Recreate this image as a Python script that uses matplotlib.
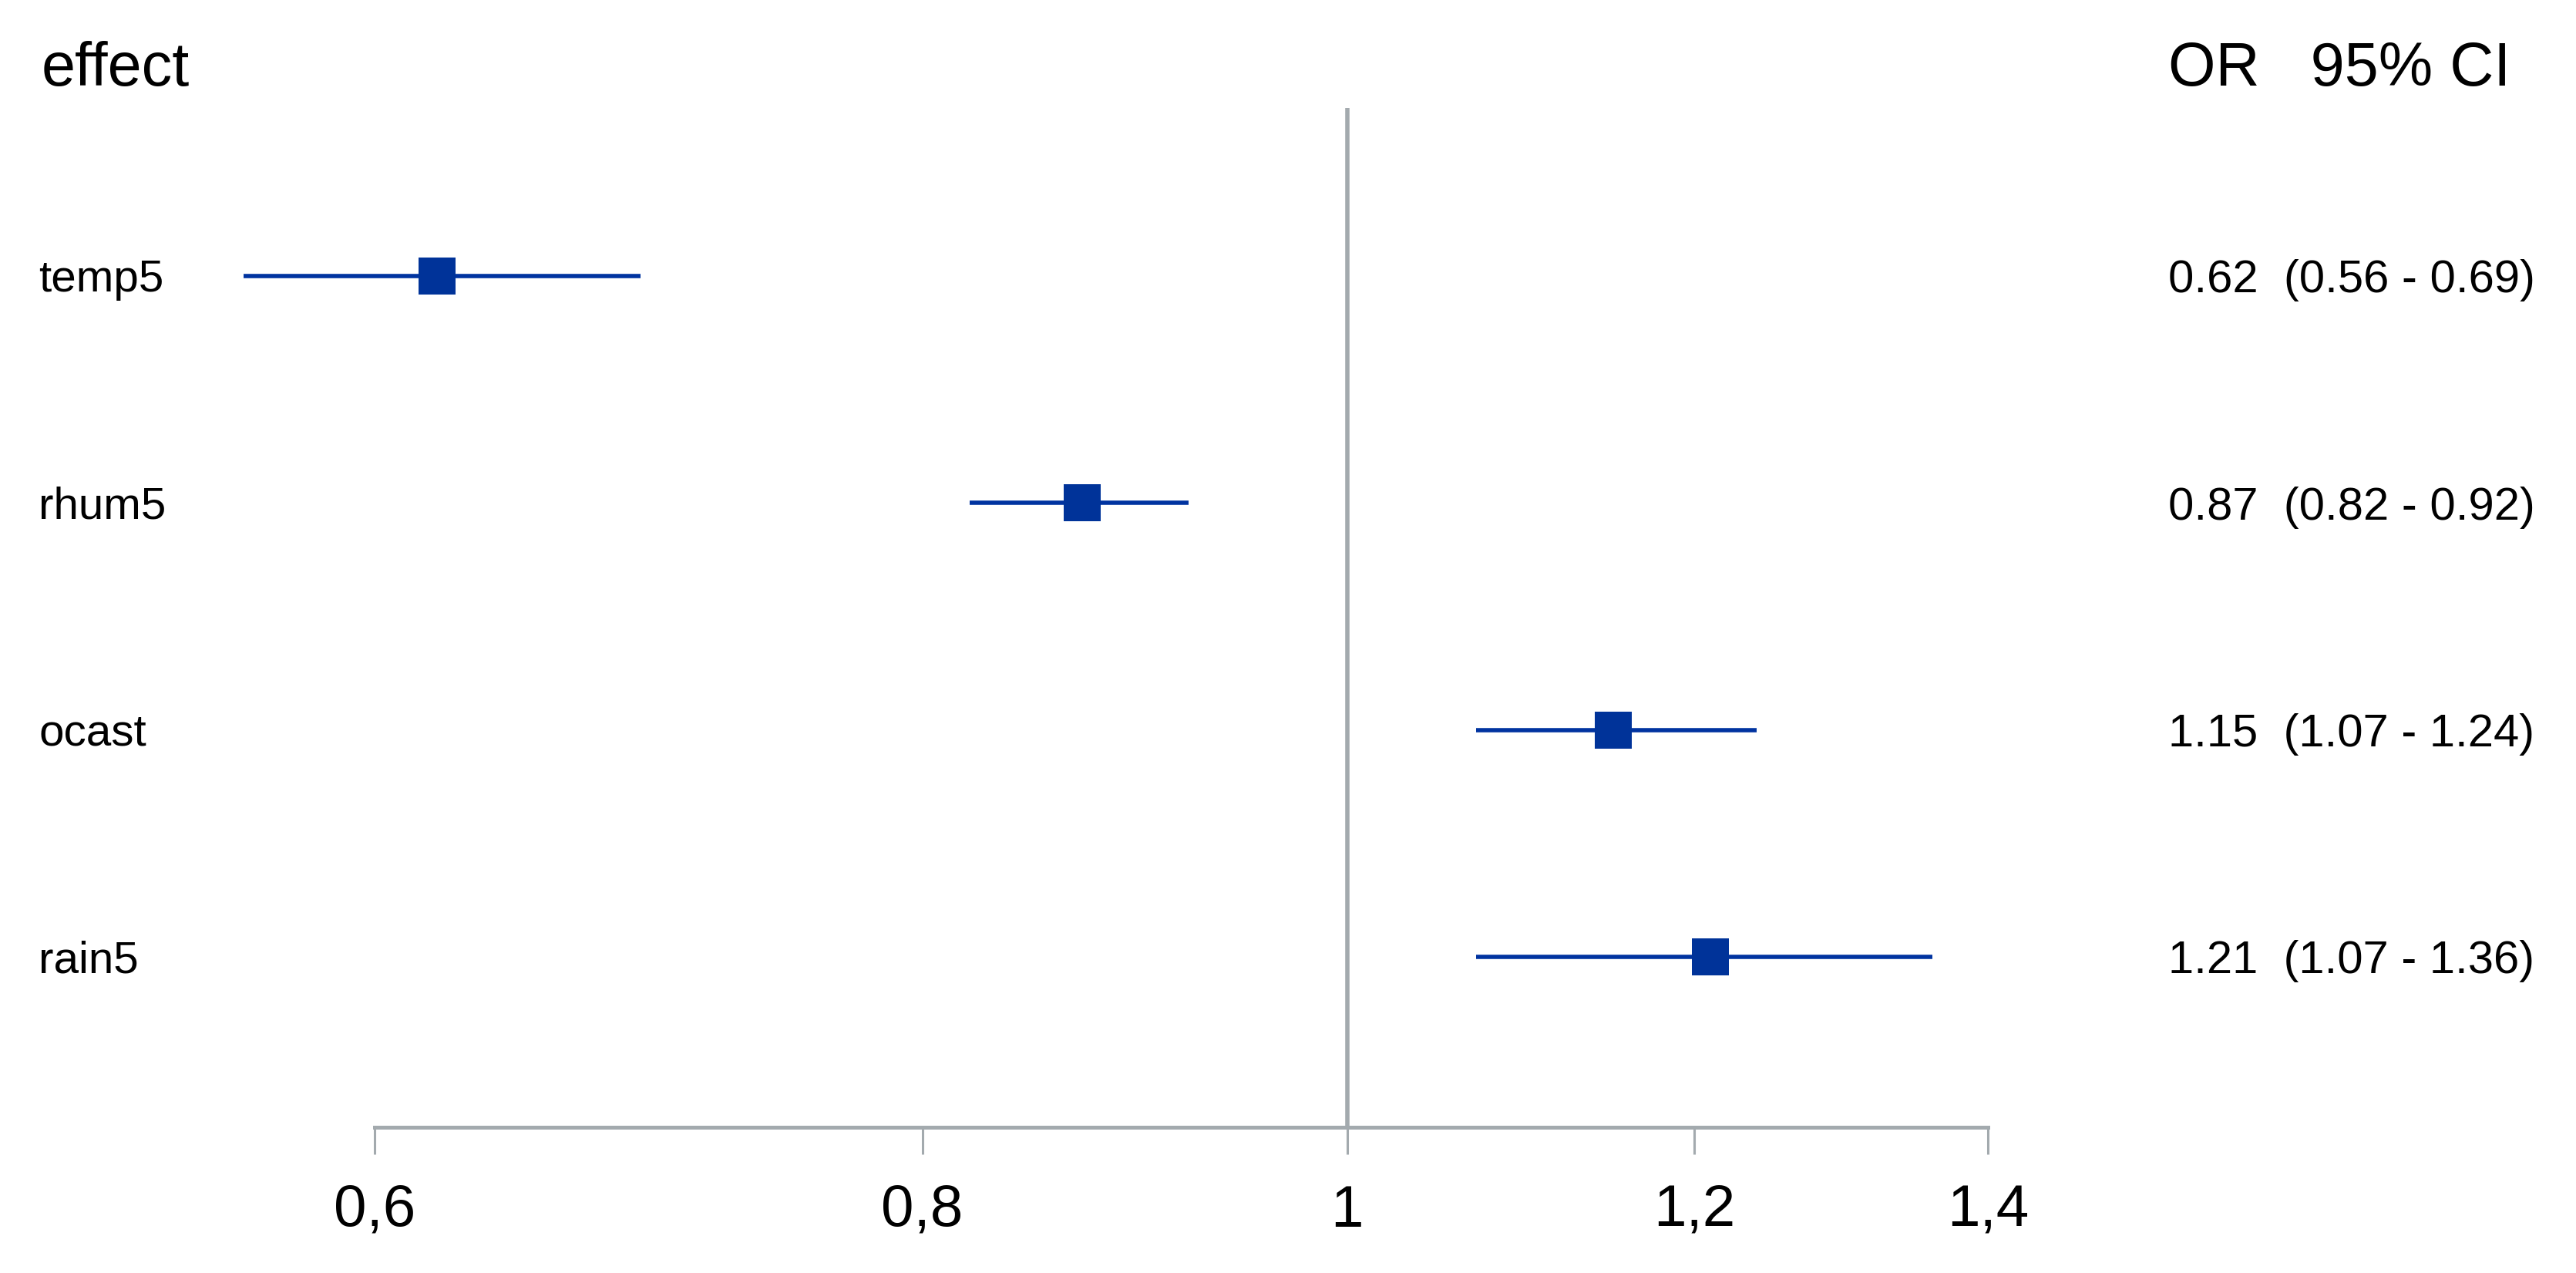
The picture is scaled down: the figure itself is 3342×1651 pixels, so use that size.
import matplotlib
matplotlib.use("Agg")
import matplotlib.pyplot as plt
import matplotlib.transforms as mtransforms
from matplotlib.ticker import NullLocator

plt.rcParams["font.family"] = ["Liberation Sans", "DejaVu Sans"]

# forest plot data
effects = ["temp5", "rhum5", "ocast", "rain5"]
odds_ratio = [0.62, 0.87, 1.15, 1.21]
ci_low = [0.56, 0.82, 1.07, 1.07]
ci_high = [0.69, 0.92, 1.24, 1.36]
tick_vals = [0.6, 0.8, 1.0, 1.2, 1.4]
tick_labels = ["0,6", "0,8", "1", "1,2", "1,4"]

BLUE = "#0033A0"
GREY = "#A3AAAE"

fig = plt.figure(figsize=(33.42, 16.51), dpi=100)
ax = fig.add_axes([0.14542, 0.11448, 0.62627, 0.80072])

rows = list(range(len(effects)))
ax.set_xscale("log")
ax.set_xlim(0.6, 1.4)
ax.set_ylim(3.75, -0.74)

ax.axvline(1.0, color=GREY, lw=4, zorder=1)
ax.hlines(rows, ci_low, ci_high, color=BLUE, lw=4, clip_on=False, zorder=2)
ax.plot(odds_ratio, rows, "s", color="#003399", ms=34, mew=0,
        clip_on=False, zorder=3)

for s in ["top", "left", "right"]:
    ax.spines[s].set_visible(False)
ax.spines["bottom"].set_color(GREY)
ax.spines["bottom"].set_linewidth(3.6)

ax.set_yticks([])
ax.xaxis.set_minor_locator(NullLocator())
ax.set_xticks(tick_vals)
ax.set_xticklabels(tick_labels)
ax.tick_params(axis="x", length=25, width=2.2, color=GREY, pad=28,
               labelsize=55, direction="out")

# row labels and OR / CI text
trans = mtransforms.blended_transform_factory(fig.transFigure, ax.transData)
for i, name in enumerate(effects):
    ax.text(0.015, i + 0.068, name, transform=trans, fontsize=42,
            ha="left", va="baseline")
    txt = f"{odds_ratio[i]:.2f}  ({ci_low[i]:.2f} - {ci_high[i]:.2f})"
    ax.text(0.8417, i + 0.072, txt, transform=trans, fontsize=43,
            ha="left", va="baseline")

fig.text(0.0159, 1 - 111 / 1651, "effect", fontsize=57,
         ha="left", va="baseline")
fig.text(0.8417, 1 - 111 / 1651, "OR   95% CI", fontsize=57,
         ha="left", va="baseline")

fig.savefig("out.png", dpi=100, facecolor="white")
